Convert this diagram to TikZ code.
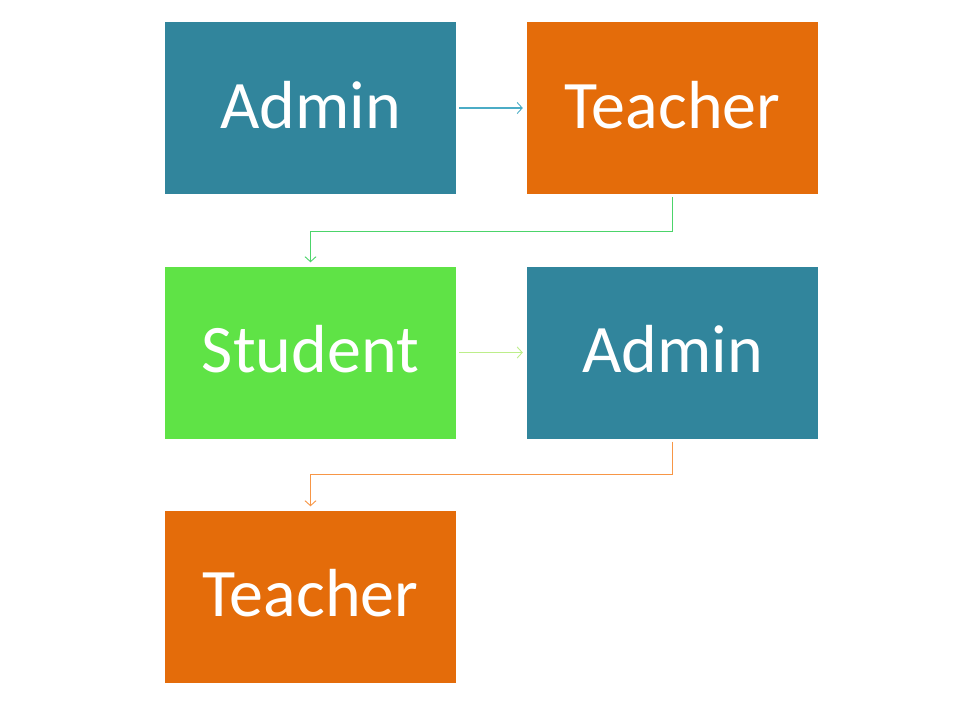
\documentclass[tikz,border=0pt]{standalone}
\usepackage{fontspec}
\setmainfont{Carlito}
\usetikzlibrary{arrows.meta}
\definecolor{cteal}{HTML}{31859C}
\definecolor{corange}{HTML}{E46C0A}
\definecolor{cgreen}{HTML}{5FE346}
\definecolor{lteal}{HTML}{4BACC6}
\definecolor{lgreen}{HTML}{4CD46A}
\definecolor{llime}{HTML}{BDEE8A}
\definecolor{lorange}{HTML}{F79646}
\newcommand{\boxtext}[1]{\raisebox{3pt}[\height][\depth]{#1}}
\begin{document}
\begin{tikzpicture}[x=1pt,y=-1pt,
  box/.style={minimum width=291pt,minimum height=172pt,inner sep=0pt,text=white,
    font=\fontsize{68}{74}\selectfont},
  conn/.style={line width=1.1pt,-{Straight Barb[length=5pt,width=11pt,line width=0.9pt]}}]
\useasboundingbox (0,0) rectangle (960,720);
\node[box,fill=cteal] (a1) at (310.5,108) {\boxtext{Admin}};
\node[box,fill=corange] (t1) at (672.5,108) {\boxtext{Teacher}};
\node[box,fill=cgreen] (s1) at (310.5,352.5) {\boxtext{Student}};
\node[box,fill=cteal] (a2) at (672.5,352.5) {\boxtext{Admin}};
\node[box,fill=corange] (t2) at (310.5,596.5) {\boxtext{Teacher}};
\draw[conn,lteal] ([xshift=3pt]a1.east) -- ([xshift=-4pt]t1.west);
\draw[conn,lgreen] ([yshift=-3pt]t1.south) -- ++(0,34) -| ([yshift=4pt]s1.north);
\draw[conn,llime] ([xshift=3pt]s1.east) -- ([xshift=-4pt]a2.west);
\draw[conn,lorange] ([yshift=-3pt]a2.south) -- ++(0,33) -| ([yshift=4pt]t2.north);
\end{tikzpicture}
\end{document}
